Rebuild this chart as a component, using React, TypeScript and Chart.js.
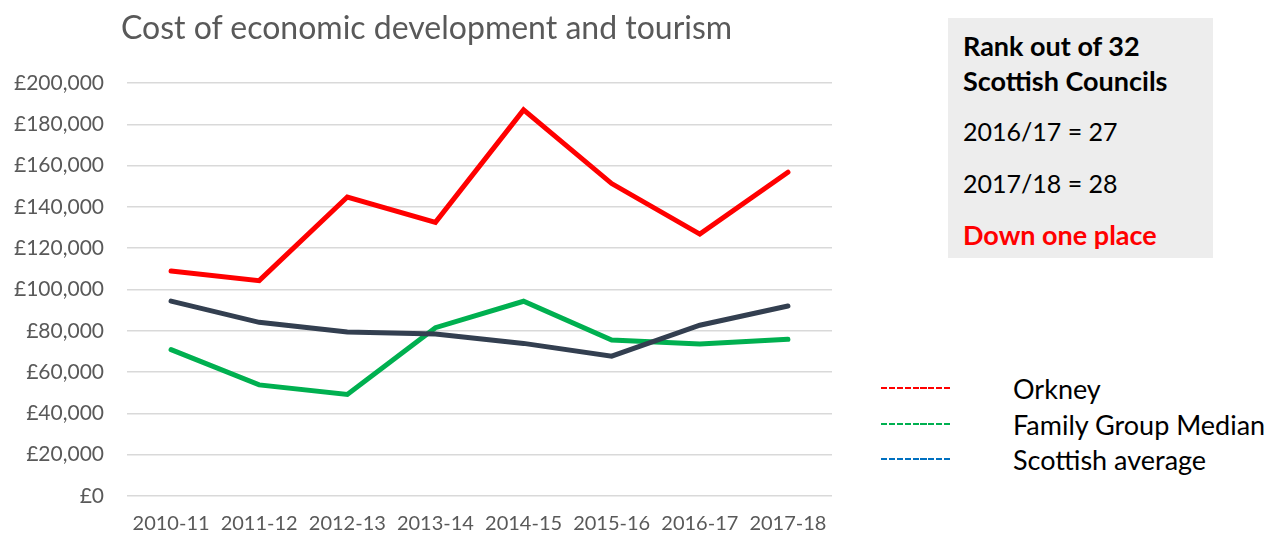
import React, { useEffect, useRef } from "react";
import { Chart, registerables } from "chart.js";

Chart.register(...registerables);

const categories = ["2010-11", "2011-12", "2012-13", "2013-14", "2014-15", "2015-16", "2016-17", "2017-18"];
const orkney = [109000, 104300, 144800, 132500, 187000, 151300, 126800, 156800];
const familyGroupMedian = [70900, 53800, 49200, 81500, 94300, 75500, 73600, 75900];
const scottishAverage = [94400, 84100, 79400, 78400, 73900, 67700, 82700, 92000];
const yTicks = { min: 0, max: 200000, step: 20000 };
const legendItems = [
  { label: "Orkney", color: "#FF0000" },
  { label: "Family Group Median", color: "#00B050" },
  { label: "Scottish average", color: "#0070C0" },
];
const rankLines = ["2016/17 = 27", "2017/18 = 28"];

const FONT = "Lato, 'Open Sans', sans-serif";

export default function App() {
  const ref = useRef<HTMLCanvasElement | null>(null);

  useEffect(() => {
    if (!ref.current) return;
    const chart = new Chart(ref.current, {
      type: "line",
      data: {
        labels: categories,
        datasets: [
          { label: "Orkney", data: orkney, borderColor: "#FF0000", order: 0 },
          { label: "Scottish average", data: scottishAverage, borderColor: "#333F50", order: 1 },
          { label: "Family Group Median", data: familyGroupMedian, borderColor: "#00B050", order: 2 },
        ].map((d) => ({
          ...d,
          borderWidth: 5,
          pointRadius: 0,
          tension: 0,
          fill: false,
          borderCapStyle: "round" as const,
          borderJoinStyle: "miter" as const,
        })),
      },
      options: {
        animation: false,
        responsive: false,
        maintainAspectRatio: false,
        layout: { padding: { top: 83, right: 18, left: 0, bottom: 0 } },
        plugins: { legend: { display: false }, title: { display: false }, tooltip: { enabled: false } },
        scales: {
          x: {
            offset: true,
            grid: { display: false, drawTicks: false },
            border: { display: false },
            ticks: { color: "#595959", font: { family: FONT, size: 20 }, padding: 16, maxRotation: 0, autoSkip: false },
            afterFit: (s: any) => { s.height = 39; },
          },
          y: {
            min: yTicks.min,
            max: yTicks.max,
            grid: { color: "#D9D9D9", lineWidth: 1.5, drawTicks: false },
            border: { display: false },
            ticks: {
              stepSize: yTicks.step,
              color: "#595959",
              font: { family: FONT, size: 21 },
              padding: 23,
              callback: (v: any) => "£" + Number(v).toLocaleString("en-GB"),
            },
            afterFit: (s: any) => { s.width = 127; },
          },
        },
      },
    });
    return () => chart.destroy();
  }, []);

  return (
    <div style={{ position: "absolute", left: 0, top: 0, width: 1285, height: 535, background: "#fff", fontFamily: FONT, overflow: "hidden" }}>
      <canvas ref={ref} width={850} height={535} style={{ position: "absolute", left: 0, top: 0, width: 850, height: 535 }} />
      <div style={{ position: "absolute", left: 121, top: 7, fontSize: 32, color: "#595959", whiteSpace: "nowrap", lineHeight: "40px" }}>
        Cost of economic development and tourism
      </div>
      <div style={{ position: "absolute", left: 948, top: 18, width: 265, height: 240, background: "#EDEDED" }}>
        <div style={{ position: "absolute", left: 15, top: 10, fontWeight: 700, fontSize: 27, lineHeight: "35px", color: "#000", whiteSpace: "nowrap" }}>
          Rank out of 32<br />Scottish Councils
        </div>
        {rankLines.map((t, i) => (
          <div key={t} style={{ position: "absolute", left: 15, top: 96 + i * 52, fontSize: 25, lineHeight: "34px", color: "#000", whiteSpace: "nowrap" }}>{t}</div>
        ))}
        <div style={{ position: "absolute", left: 15, top: 200, fontWeight: 700, fontSize: 27, lineHeight: "34px", color: "#FF0000", whiteSpace: "nowrap" }}>
          Down one place
        </div>
      </div>
      {legendItems.map((it, i) => (
        <div key={it.label}>
          <div style={{ position: "absolute", left: 881, top: [388, 424, 459][i] - 1, width: 71, height: 2, background: `repeating-linear-gradient(to right, ${it.color} 0px, ${it.color} 6px, transparent 6px, transparent 7.9px)` }} />
          <div style={{ position: "absolute", left: 1013, top: [389, 425, 460][i] - 17, fontSize: 27, lineHeight: "34px", color: "#000", whiteSpace: "nowrap" }}>{it.label}</div>
        </div>
      ))}
    </div>
  );
}
